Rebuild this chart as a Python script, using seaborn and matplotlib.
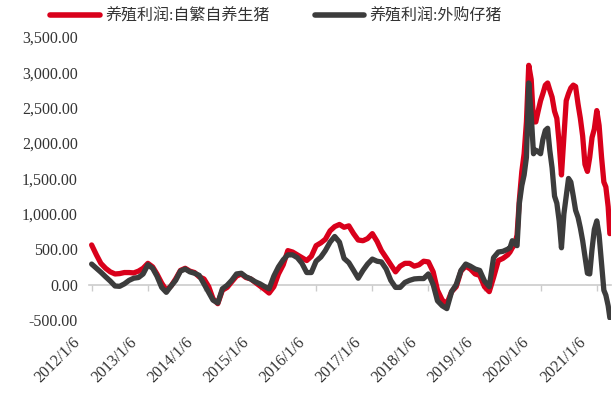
import matplotlib
matplotlib.use("Agg")
import matplotlib.pyplot as plt
import matplotlib.ticker as mticker
from matplotlib.transforms import ScaledTranslation
import pandas as pd
import seaborn as sns

# ---------------- data ----------------
monthly_dates = [f"{y}-{m:02d}-06" for y in range(2012, 2020) for m in range(1, 13)][:89]
late_dates = [
    "2019-06-06", "2019-06-21", "2019-07-06", "2019-07-21", "2019-08-06", "2019-08-21",
    "2019-09-06", "2019-09-21", "2019-10-06", "2019-10-21", "2019-11-06", "2019-11-21",
    "2019-12-06", "2019-12-21", "2020-01-06", "2020-01-21", "2020-02-06", "2020-02-21",
    "2020-03-06", "2020-03-21", "2020-04-06", "2020-04-21", "2020-05-06", "2020-05-21",
    "2020-06-06", "2020-06-21", "2020-07-06", "2020-07-21", "2020-08-06", "2020-08-21",
    "2020-09-06", "2020-09-21", "2020-10-06", "2020-10-21", "2020-11-06", "2020-11-21",
    "2020-12-06", "2020-12-21", "2021-01-06", "2021-01-21", "2021-02-06", "2021-02-21",
    "2021-03-06", "2021-03-21", "2021-04-01",
]
dates = monthly_dates + late_dates

profit_self_bred = [
    560, 420, 300, 230, 180, 150, 155, 170, 170, 165, 190, 230,
    300, 250, 150, 20, -80, -20, 80, 200, 230, 190, 170, 110,
    80, -30, -200, -270, -80, -40, 40, 120, 150, 100, 80, 30,
    -20, -70, -120, -30, 150, 280, 480, 460, 420, 380, 340, 400,
    550, 590, 640, 760, 820, 850, 810, 830, 720, 630, 620, 650,
    720, 610, 480, 380, 280, 180, 260, 300, 300, 260, 280, 330,
    320, 180, -80, -220, -270, -100, -30, 190, 260, 220, 150, 130,
    -30, -100, 100, 340, 370,
    420, 460, 520, 560, 700, 1200, 1600, 1850, 2300, 3100, 2900, 2300,
    2300, 2450, 2600, 2700, 2820, 2850, 2750, 2650, 2450, 2350, 2000, 1550,
    2100, 2600, 2700, 2780, 2820, 2800, 2550, 2350, 2100, 1700, 1600, 1800,
    2080, 2200, 2460, 2250, 1800, 1450, 1380, 1100, 720,
]
profit_purchased = [
    290, 230, 175, 110, 50, -20, -25, 10, 60, 90, 100, 150,
    280, 230, 120, -40, -110, -20, 60, 190, 220, 180, 160, 130,
    10, -110, -220, -260, -60, -10, 60, 150, 160, 110, 80, 40,
    10, -30, -60, 120, 250, 350, 420, 420, 380, 300, 170, 170,
    330, 390, 480, 600, 680, 600, 370, 310, 200, 90, 200, 290,
    360, 330, 320, 220, 60, -40, -40, 30, 60, 80, 85, 85,
    150, 0, -230, -300, -340, -100, 0, 200, 290, 260, 220, 200,
    50, -30, 380, 460, 470,
    500, 520, 620, 580, 550, 1150, 1400, 1550, 1800, 2850, 2400, 1850,
    1900, 1880, 1850, 2050, 2180, 2210, 1900, 1650, 1250, 1150, 900, 520,
    1000, 1250, 1500, 1450, 1250, 1050, 950, 800, 620, 400, 160, 150,
    500, 780, 900, 700, 300, -80, -150, -300, -470,
]
series_names = ["养殖利润:自繁自养生猪", "养殖利润:外购仔猪"]
tick_dates = [f"{y}-01-06" for y in range(2012, 2022)]
tick_labels = [f"{y}/1/6" for y in range(2012, 2022)]

# ---------------- figure ----------------
sns.set_theme(style="white")
plt.rcParams["font.family"] = ["Liberation Serif", "Noto Sans CJK SC"]

df = pd.DataFrame({
    "date": pd.to_datetime(dates * 2),
    "value": profit_self_bred + profit_purchased,
    "series": [series_names[0]] * len(dates) + [series_names[1]] * len(dates),
})

fig = plt.figure(figsize=(6.14, 3.94), dpi=100)
ax = fig.add_axes([0.145, 0.188, 0.85, 0.718])

palette = {series_names[0]: "#D9001B", series_names[1]: "#3C3C3C"}
sns.lineplot(data=df, x="date", y="value", hue="series", palette=palette,
             linewidth=3.8, ax=ax, legend=True)

ax.set_ylim(-500, 3500)
ax.set_xlim(pd.Timestamp("2011-12-20"), pd.Timestamp("2021-04-08"))
ax.set_yticks(range(-500, 3501, 500))
ax.yaxis.set_major_formatter(mticker.FuncFormatter(lambda v, p: f"{v:,.2f}"))
ax.set_xlabel("")
ax.set_ylabel("")
for s in ax.spines.values():
    s.set_visible(False)

tick_pos = pd.to_datetime(tick_dates)
ax.set_xticks(tick_pos)
ax.set_xticklabels(tick_labels, rotation=45, ha="right")
ax.tick_params(axis="x", length=0, pad=4, labelsize=11.5, labelcolor="#333333")
ax.tick_params(axis="y", length=0, pad=8, labelsize=11.5, labelcolor="#333333")
shift = ScaledTranslation(-0.08, -0.09, fig.dpi_scale_trans)
for lab in ax.get_xticklabels():
    lab.set_transform(lab.get_transform() + shift)

# zero line with year tick marks
sec = ax.secondary_xaxis(500 / 4000)
sec.set_xticks(tick_pos)
sec.tick_params(axis="x", length=4, width=1, color="#CCCCCC", labelbottom=False,
                direction="out")
sec.spines["bottom"].set_color("#CCCCCC")
sec.spines["bottom"].set_linewidth(1.2)
for k in ("top", "left", "right"):
    sec.spines[k].set_visible(False)
sec.set_zorder(0)

handles, labels = ax.get_legend_handles_labels()
ax.get_legend().remove()
for h in handles:
    h.set_linewidth(4)
fig.legend(handles, labels, loc="center", bbox_to_anchor=(0.45, 0.957), ncol=2,
           frameon=False, fontsize=11.5, handlelength=3.1, handletextpad=0.35,
           columnspacing=2.8, labelcolor="#333333")

fig.savefig("out.png", dpi=100)
